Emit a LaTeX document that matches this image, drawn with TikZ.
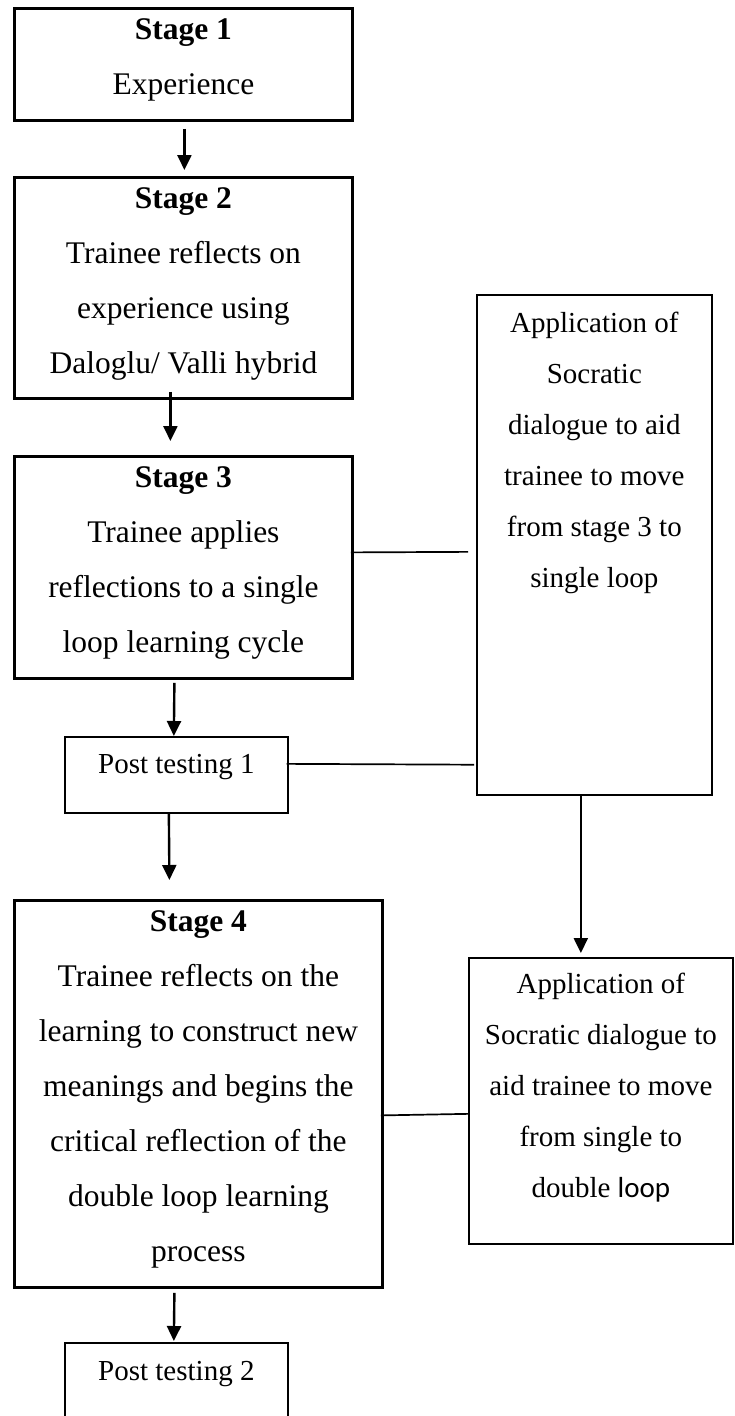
\documentclass[tikz,border=0pt]{standalone}
\usepackage{fontspec}
\setmainfont{Liberation Serif}
\newfontfamily\loopfont{Carlito}
\usetikzlibrary{arrows.meta,calc}

\begin{document}
\begin{tikzpicture}[x=1pt,y=-1pt,
    stagebox/.style={draw, line width=2.8pt, inner sep=0pt, anchor=north west},
    sidebox/.style={draw, line width=1.7pt, inner sep=0pt, anchor=north west},
    flow/.style={line width=2.4pt, -{Triangle[length=15pt,width=14pt]}},
    link/.style={line width=1.7pt}]
    \def\bigtext#1#2#3{\parbox[c][#2pt][t]{#1pt}{\fontsize{31.5}{55}\selectfont\centering\rule{0pt}{31pt}#3}}
    \def\smalltext#1#2#3#4{\parbox[c][#2pt][t]{#1pt}{\fontsize{29}{51}\selectfont\centering\rule{0pt}{#3pt}#4}}

    \useasboundingbox (0,0) rectangle (734,1416);

    % left column
    \node[stagebox] (stage1) at (13,7) {\bigtext{338}{112}{\textbf{Stage 1}\\Experience}};
    \node[stagebox] (stage2) at (13,176) {\bigtext{338}{221}{\textbf{Stage 2}\\Trainee reflects on\\experience using\\Daloglu/ Valli hybrid}};
    \node[stagebox] (stage3) at (13,455) {\bigtext{338}{222}{\textbf{Stage 3}\\Trainee applies\\reflections to a single\\loop learning cycle}};
    \node[sidebox] (post1) at (64,736) {\smalltext{223}{76}{37}{Post testing 1}};
    \node[stagebox] (stage4) at (13,899) {\bigtext{368}{387}{\textbf{Stage 4}\\Trainee reflects on the\\learning to construct new\\meanings and begins the\\critical reflection of the\\double loop learning\\process}};
    \node[sidebox] (post2) at (64,1342) {\smalltext{223}{80}{38}{Post testing 2}};

    % right column
    \node[sidebox] (socratic1) at (476,294) {\smalltext{235}{500}{38}{Application of\\Socratic\\dialogue to aid\\trainee to move\\from stage 3 to\\single loop}};
    \node[sidebox] (socratic2) at (468,957) {\smalltext{264}{286}{36}{Application of\\Socratic dialogue to\\aid trainee to move\\from single to\\double {\loopfont loop}}};

    \draw[flow] ($(stage1.south)+(1,7)$) -- ($(stage2.north)+(1,-6)$);
    \draw[flow] ($(stage2.south)+(-13,-8)$) -- ($(stage3.north)+(-13,-14)$);
    \draw[flow] ($(stage3.south)+(-9,3)$) -- ($(post1.north)+(-2.5,0)$);
    \draw[flow] ($(post1.south)+(-7.5,0)$) -- ($(stage4.north)+(-29,-19)$);
    \draw[flow] ($(stage4.south)+(-24,4)$) -- ($(post2.north)+(-2.5,-1)$);
    \draw[flow] ($(socratic1.south)+(-13.5,0)$) -- ($(socratic2.north)+(-20,-4)$);

    \draw[link] ($(stage3.east)+(-3,-15)$) -- ($(socratic1.west)+(-8,7)$);
    \draw[link] ($(post1.east)+(-2,-11)$) -- ($(socratic1.south west)+(-2,-31)$);
    \draw[link] ($(stage4.east)+(-3,21.5)$) -- ($(socratic2.west)+(0,13)$);
\end{tikzpicture}
\end{document}
